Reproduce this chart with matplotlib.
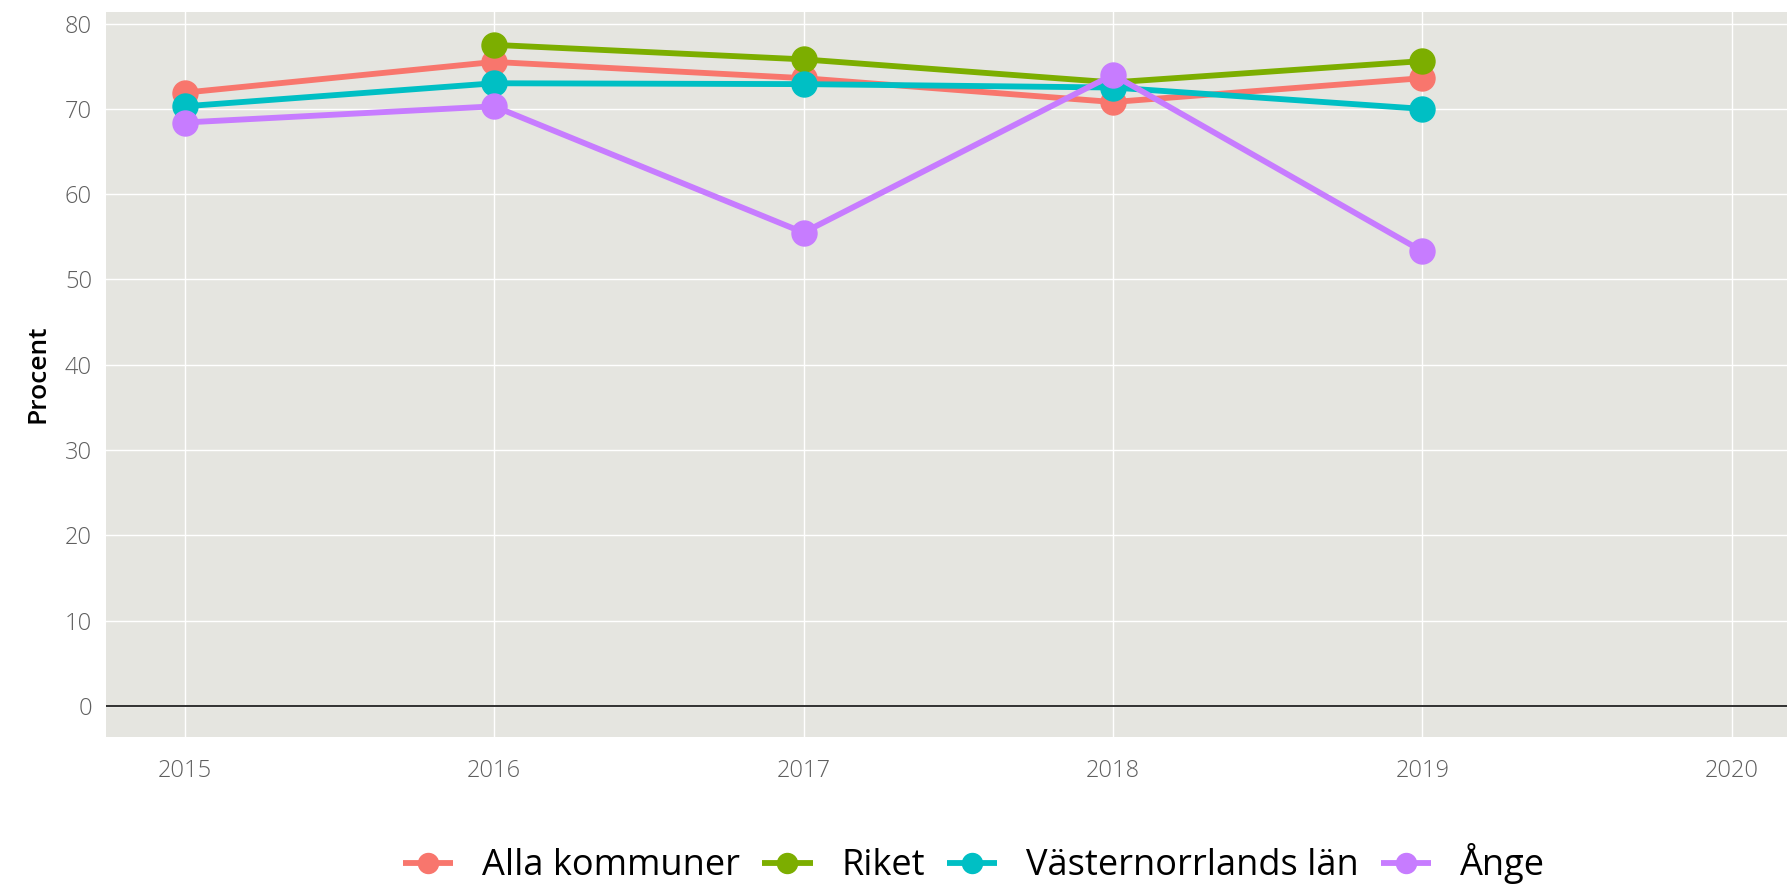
import matplotlib.pyplot as plt

# andel i procent per år och område
years = [2015, 2016, 2017, 2018, 2019]
alla_kommuner = [71.9, 75.5, 73.6, 70.8, 73.6]
riket_years = [2016, 2017, 2018, 2019]
riket = [77.5, 75.8, 73.1, 75.6]
vasternorrland = [70.3, 73.0, 72.9, 72.5, 70.0]
ange = [68.4, 70.3, 55.5, 74.0, 53.3]

series = [
    ('Alla kommuner', years, alla_kommuner, '#F8766D'),
    ('Riket', riket_years, riket, '#7CAE00'),
    ('Västernorrlands län', years, vasternorrland, '#00BFC4'),
    ('Ånge', years, ange, '#C77CFF'),
]

plt.rcParams['font.family'] = ['Open Sans', 'DejaVu Sans']

fig = plt.figure(figsize=(17.87, 8.92), dpi=100)
ax = fig.add_axes([0.0593, 0.174, 0.9407, 0.813])
ax.set_facecolor('#E5E5E0')

for label, x, y, color in series:
    ax.plot(x, y, '-o', color=color, linewidth=4.2, markersize=18,
            label=label, solid_capstyle='butt')

ax.axhline(0, color='#222222', linewidth=1.3, zorder=1)

ax.set_xlim(2014.746, 2020.178)
ax.set_ylim(-3.6, 81.4)
ax.set_xticks([2015, 2016, 2017, 2018, 2019, 2020])
ax.set_yticks(range(0, 81, 10))
ax.grid(True, color='white', linewidth=1.0)
ax.set_axisbelow(True)
ax.tick_params(length=0, labelsize=17, colors='#5f5f5f', pad=16)
ax.tick_params(axis='y', pad=10)
for lbl in ax.get_xticklabels() + ax.get_yticklabels():
    lbl.set_fontweight('light')
for side in ax.spines.values():
    side.set_visible(False)

ax.set_ylabel('Procent', fontsize=19, color='black', labelpad=10,
              fontweight='semibold')

fig.legend(loc='lower center', bbox_to_anchor=(0.545, -0.028), ncol=4,
           frameon=False, fontsize=26, handlelength=1.4, markerscale=0.8,
           columnspacing=0.6, handletextpad=0.8)

fig.savefig('out.png', dpi=100)
